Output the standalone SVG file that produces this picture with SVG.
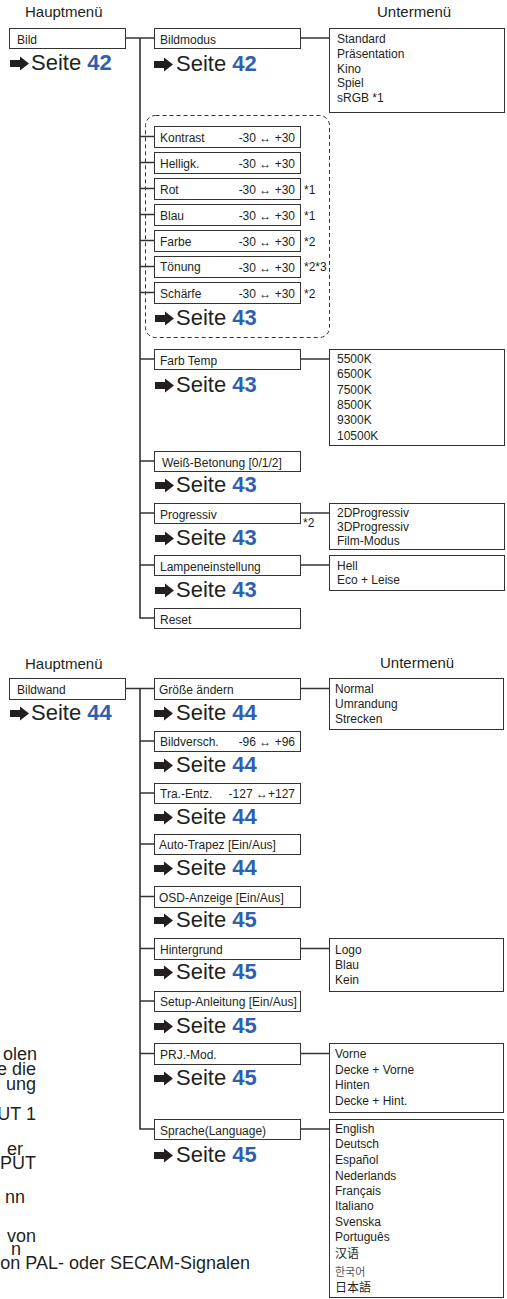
<svg xmlns="http://www.w3.org/2000/svg" width="507" height="1299" viewBox="0 0 507 1299">
<style>
.bg{fill:#fff}
.box{fill:#fff;stroke:#333;stroke-width:1}
.dash{fill:none;stroke:#333;stroke-width:1;stroke-dasharray:4 3}
.conn{fill:none;stroke:#333;stroke-width:1.6}
.t{font-family:"Liberation Sans",Arial,Helvetica,sans-serif;font-size:12px;fill:#231f20}
.h{font-family:"Liberation Sans",Arial,Helvetica,sans-serif;font-size:15px;fill:#231f20}
.s{font-family:"Liberation Sans",Arial,Helvetica,sans-serif;font-size:22px;fill:#231f20}
.n{font-weight:bold;fill:#2f5fae}
.f{font-family:"Liberation Sans",Arial,Helvetica,sans-serif;font-size:18px;fill:#231f20;text-anchor:end}
.e{text-anchor:end}
.cjk{font-family:"Liberation Sans","Noto Sans CJK SC",sans-serif;font-size:12px;fill:#231f20}
.ko{font-family:"Noto Sans CJK KR",sans-serif;font-size:11px;fill:#555}
</style>
<defs>
<path id="ar" d="M0,-3.5H10V-7L19,0L10,7V3.5H0Z" fill="#231f20"/>
</defs>
<rect class="bg" x="0" y="0" width="507" height="1299"/>

<!-- page fragments at left -->
<g id="fragments">
<text class="f" x="37" y="1060">olen</text>
<text class="f" x="36" y="1075">e die</text>
<text class="f" x="36" y="1090">ung</text>
<text class="f" x="36" y="1120">UT 1</text>
<text class="f" x="23" y="1155">er</text>
<text class="f" x="36" y="1169">NPUT</text>
<text class="f" x="25" y="1203">nn</text>
<text class="f" x="36" y="1242">von</text>
<text class="f" x="21" y="1255">n</text>
<text class="f" x="250" y="1269">on PAL- oder SECAM-Signalen</text>
</g>

<g id="headers">
<text class="h" x="25" y="17">Hauptmenü</text>
<text class="h" x="377" y="17">Untermenü</text>
<text class="h" x="25" y="669">Hauptmenü</text>
<text class="h" x="380" y="668">Untermenü</text>
</g>

<g id="connectors">
<path class="conn" d="M125,38H154M140,38V618H154M140,136.5H154M140,162.5H154M140,188.5H154M140,214.5H154M140,240.5H154M140,266.5H154M140,292.5H154M140,359H154M140,461H154M140,513H154M140,565H154"/>
<path class="conn" d="M300,38H329M300,359H329M300,513H329M300,565H329"/>
<path class="conn" d="M125,688.5H154M140,688.5V1129H154M140,741H154M140,793H154M140,844H154M140,896.5H154M140,948.5H154M140,1001H154M140,1053.5H154"/>
<path class="conn" d="M300,688.5H329M300,948.5H329M300,1053.5H329M300,1129H329"/>
</g>

<rect id="group-dashed" class="dash" x="145.5" y="115.5" width="184" height="222" rx="10"/>

<!-- Section 1 -->
<g id="n-bild">
<rect class="box" x="9.5" y="28.5" width="116" height="20"/>
<text class="t" x="17" y="44">Bild</text>
<use href="#ar" x="10" y="63.5"/>
<text class="s" x="31" y="70">Seite <tspan class="n">42</tspan></text>
</g>
<g id="n-bildmodus">
<rect class="box" x="154.5" y="28.5" width="146" height="20"/>
<text class="t" x="160" y="44">Bildmodus</text>
<use href="#ar" x="154" y="64.5"/>
<text class="s" x="176" y="71">Seite <tspan class="n">42</tspan></text>
</g>
<g id="o-bildmodus">
<rect class="box" x="329.5" y="28.5" width="175" height="84"/>
<text class="t" x="337" y="43">Standard</text>
<text class="t" x="337" y="57.8">Präsentation</text>
<text class="t" x="337" y="72.6">Kino</text>
<text class="t" x="337" y="87.4">Spiel</text>
<text class="t" x="337" y="102.2">sRGB *1</text>
</g>
<g id="n-kontrast">
<rect class="box" x="154.5" y="126.5" width="146" height="21"/>
<text class="t" x="160" y="142">Kontrast</text>
<text class="t e" x="295" y="142">-30 ↔ +30</text>
</g>
<g id="n-helligk">
<rect class="box" x="154.5" y="152.5" width="146" height="21"/>
<text class="t" x="160" y="168">Helligk.</text>
<text class="t e" x="295" y="168">-30 ↔ +30</text>
</g>
<g id="n-rot">
<rect class="box" x="154.5" y="178.5" width="146" height="21"/>
<text class="t" x="160" y="194">Rot</text>
<text class="t e" x="295" y="194">-30 ↔ +30</text>
<text class="t" x="304" y="194">*1</text>
</g>
<g id="n-blau">
<rect class="box" x="154.5" y="204.5" width="146" height="21"/>
<text class="t" x="160" y="220">Blau</text>
<text class="t e" x="295" y="220">-30 ↔ +30</text>
<text class="t" x="304" y="220">*1</text>
</g>
<g id="n-farbe">
<rect class="box" x="154.5" y="230.5" width="146" height="21"/>
<text class="t" x="160" y="246">Farbe</text>
<text class="t e" x="295" y="246">-30 ↔ +30</text>
<text class="t" x="304" y="246">*2</text>
</g>
<g id="n-toenung">
<rect class="box" x="154.5" y="256.5" width="146" height="21"/>
<text class="t" x="160" y="271">Tönung</text>
<text class="t e" x="295" y="272">-30 ↔ +30</text>
<text class="t" x="304" y="271">*2*3</text>
</g>
<g id="n-schaerfe">
<rect class="box" x="154.5" y="282.5" width="146" height="21"/>
<text class="t" x="160" y="298">Schärfe</text>
<text class="t e" x="295" y="298">-30 ↔ +30</text>
<text class="t" x="304" y="298">*2</text>
</g>
<g id="ref-bildeinst">
<use href="#ar" x="155" y="318.5"/>
<text class="s" x="176" y="325">Seite <tspan class="n">43</tspan></text>
</g>
<g id="n-farbtemp">
<rect class="box" x="154.5" y="349.5" width="146" height="20"/>
<text class="t" x="160" y="365">Farb Temp</text>
<use href="#ar" x="155" y="385.5"/>
<text class="s" x="176" y="392">Seite <tspan class="n">43</tspan></text>
</g>
<g id="o-farbtemp">
<rect class="box" x="329.5" y="349.5" width="175" height="96"/>
<text class="t" x="337" y="363">5500K</text>
<text class="t" x="337" y="378.3">6500K</text>
<text class="t" x="337" y="393.6">7500K</text>
<text class="t" x="337" y="408.9">8500K</text>
<text class="t" x="337" y="424.2">9300K</text>
<text class="t" x="337" y="439.5">10500K</text>
</g>
<g id="n-weiss">
<rect class="box" x="154.5" y="451.5" width="146" height="20"/>
<text class="t" x="162" y="467">Weiß-Betonung [0/1/2]</text>
<use href="#ar" x="155" y="485.5"/>
<text class="s" x="176" y="492">Seite <tspan class="n">43</tspan></text>
</g>
<g id="n-progressiv">
<rect class="box" x="154.5" y="503.5" width="146" height="20"/>
<text class="t" x="160" y="519">Progressiv</text>
<text class="t" x="303" y="527">*2</text>
<use href="#ar" x="155" y="538.5"/>
<text class="s" x="176" y="545">Seite <tspan class="n">43</tspan></text>
</g>
<g id="o-progressiv">
<rect class="box" x="329.5" y="503.5" width="175" height="46"/>
<text class="t" x="337" y="517">2DProgressiv</text>
<text class="t" x="337" y="531">3DProgressiv</text>
<text class="t" x="337" y="545">Film-Modus</text>
</g>
<g id="n-lampe">
<rect class="box" x="154.5" y="555.5" width="146" height="20"/>
<text class="t" x="160" y="571">Lampeneinstellung</text>
<use href="#ar" x="155" y="590.5"/>
<text class="s" x="176" y="597">Seite <tspan class="n">43</tspan></text>
</g>
<g id="o-lampe">
<rect class="box" x="329.5" y="555.5" width="175" height="35"/>
<text class="t" x="337" y="570">Hell</text>
<text class="t" x="337" y="584">Eco + Leise</text>
</g>
<g id="n-reset">
<rect class="box" x="154.5" y="608.5" width="146" height="20"/>
<text class="t" x="160" y="624">Reset</text>
</g>

<!-- Section 2 -->
<g id="n-bildwand">
<rect class="box" x="9.5" y="678.5" width="116" height="21"/>
<text class="t" x="17" y="694">Bildwand</text>
<use href="#ar" x="10" y="713.5"/>
<text class="s" x="31" y="720">Seite <tspan class="n">44</tspan></text>
</g>
<g id="n-groesse">
<rect class="box" x="154.5" y="678.5" width="146" height="21"/>
<text class="t" x="159" y="694">Größe ändern</text>
<use href="#ar" x="154" y="713.5"/>
<text class="s" x="176" y="720">Seite <tspan class="n">44</tspan></text>
</g>
<g id="o-groesse">
<rect class="box" x="329.5" y="678.5" width="174" height="51"/>
<text class="t" x="335" y="693">Normal</text>
<text class="t" x="335" y="708">Umrandung</text>
<text class="t" x="335" y="723">Strecken</text>
</g>
<g id="n-bildversch">
<rect class="box" x="154.5" y="731.5" width="146" height="20"/>
<text class="t" x="160" y="746">Bildversch.</text>
<text class="t e" x="295" y="746">-96 ↔ +96</text>
<use href="#ar" x="154" y="765.5"/>
<text class="s" x="176" y="772">Seite <tspan class="n">44</tspan></text>
</g>
<g id="n-traentz">
<rect class="box" x="154.5" y="783.5" width="146" height="20"/>
<text class="t" x="160" y="798">Tra.-Entz.</text>
<text class="t e" x="295" y="798">-127 ↔+127</text>
<use href="#ar" x="154" y="817.5"/>
<text class="s" x="176" y="824">Seite <tspan class="n">44</tspan></text>
</g>
<g id="n-autotrapez">
<rect class="box" x="154.5" y="834.5" width="146" height="20"/>
<text class="t" x="159" y="849">Auto-Trapez [Ein/Aus]</text>
<use href="#ar" x="154" y="868.5"/>
<text class="s" x="176" y="875">Seite <tspan class="n">44</tspan></text>
</g>
<g id="n-osd">
<rect class="box" x="154.5" y="886.5" width="146" height="21"/>
<text class="t" x="159" y="902">OSD-Anzeige [Ein/Aus]</text>
<use href="#ar" x="154" y="920.5"/>
<text class="s" x="176" y="927">Seite <tspan class="n">45</tspan></text>
</g>
<g id="n-hintergrund">
<rect class="box" x="154.5" y="938.5" width="146" height="21"/>
<text class="t" x="160" y="954">Hintergrund</text>
<use href="#ar" x="154" y="972.5"/>
<text class="s" x="176" y="979">Seite <tspan class="n">45</tspan></text>
</g>
<g id="o-hintergrund">
<rect class="box" x="329.5" y="938.5" width="174" height="53"/>
<text class="t" x="335" y="954">Logo</text>
<text class="t" x="335" y="969">Blau</text>
<text class="t" x="335" y="984">Kein</text>
</g>
<g id="n-setup">
<rect class="box" x="154.5" y="991.5" width="146" height="20"/>
<text class="t" x="160" y="1006">Setup-Anleitung [Ein/Aus]</text>
<use href="#ar" x="154" y="1026.5"/>
<text class="s" x="176" y="1033">Seite <tspan class="n">45</tspan></text>
</g>
<g id="n-prjmod">
<rect class="box" x="154.5" y="1043.5" width="146" height="21"/>
<text class="t" x="160" y="1059">PRJ.-Mod.</text>
<use href="#ar" x="154" y="1078.5"/>
<text class="s" x="176" y="1085">Seite <tspan class="n">45</tspan></text>
</g>
<g id="o-prjmod">
<rect class="box" x="329.5" y="1043.5" width="174" height="69"/>
<text class="t" x="335" y="1058">Vorne</text>
<text class="t" x="335" y="1074">Decke + Vorne</text>
<text class="t" x="335" y="1089">Hinten</text>
<text class="t" x="335" y="1105">Decke + Hint.</text>
</g>
<g id="n-sprache">
<rect class="box" x="154.5" y="1119.5" width="146" height="20"/>
<text class="t" x="160" y="1135">Sprache(Language)</text>
<use href="#ar" x="154" y="1155.5"/>
<text class="s" x="176" y="1162">Seite <tspan class="n">45</tspan></text>
</g>
<g id="o-sprache">
<rect class="box" x="329.5" y="1119.5" width="174" height="178"/>
<text class="t" x="335" y="1133">English</text>
<text class="t" x="335" y="1148">Deutsch</text>
<text class="t" x="335" y="1164">Español</text>
<text class="t" x="335" y="1180">Nederlands</text>
<text class="t" x="335" y="1195">Français</text>
<text class="t" x="335" y="1210">Italiano</text>
<text class="t" x="335" y="1226">Svenska</text>
<text class="t" x="335" y="1241">Português</text>
<text class="cjk" x="335" y="1258">汉语</text>
<text class="ko" x="335" y="1276">한국어</text>
<text class="cjk" x="335" y="1292">日本語</text>
</g>
</svg>
